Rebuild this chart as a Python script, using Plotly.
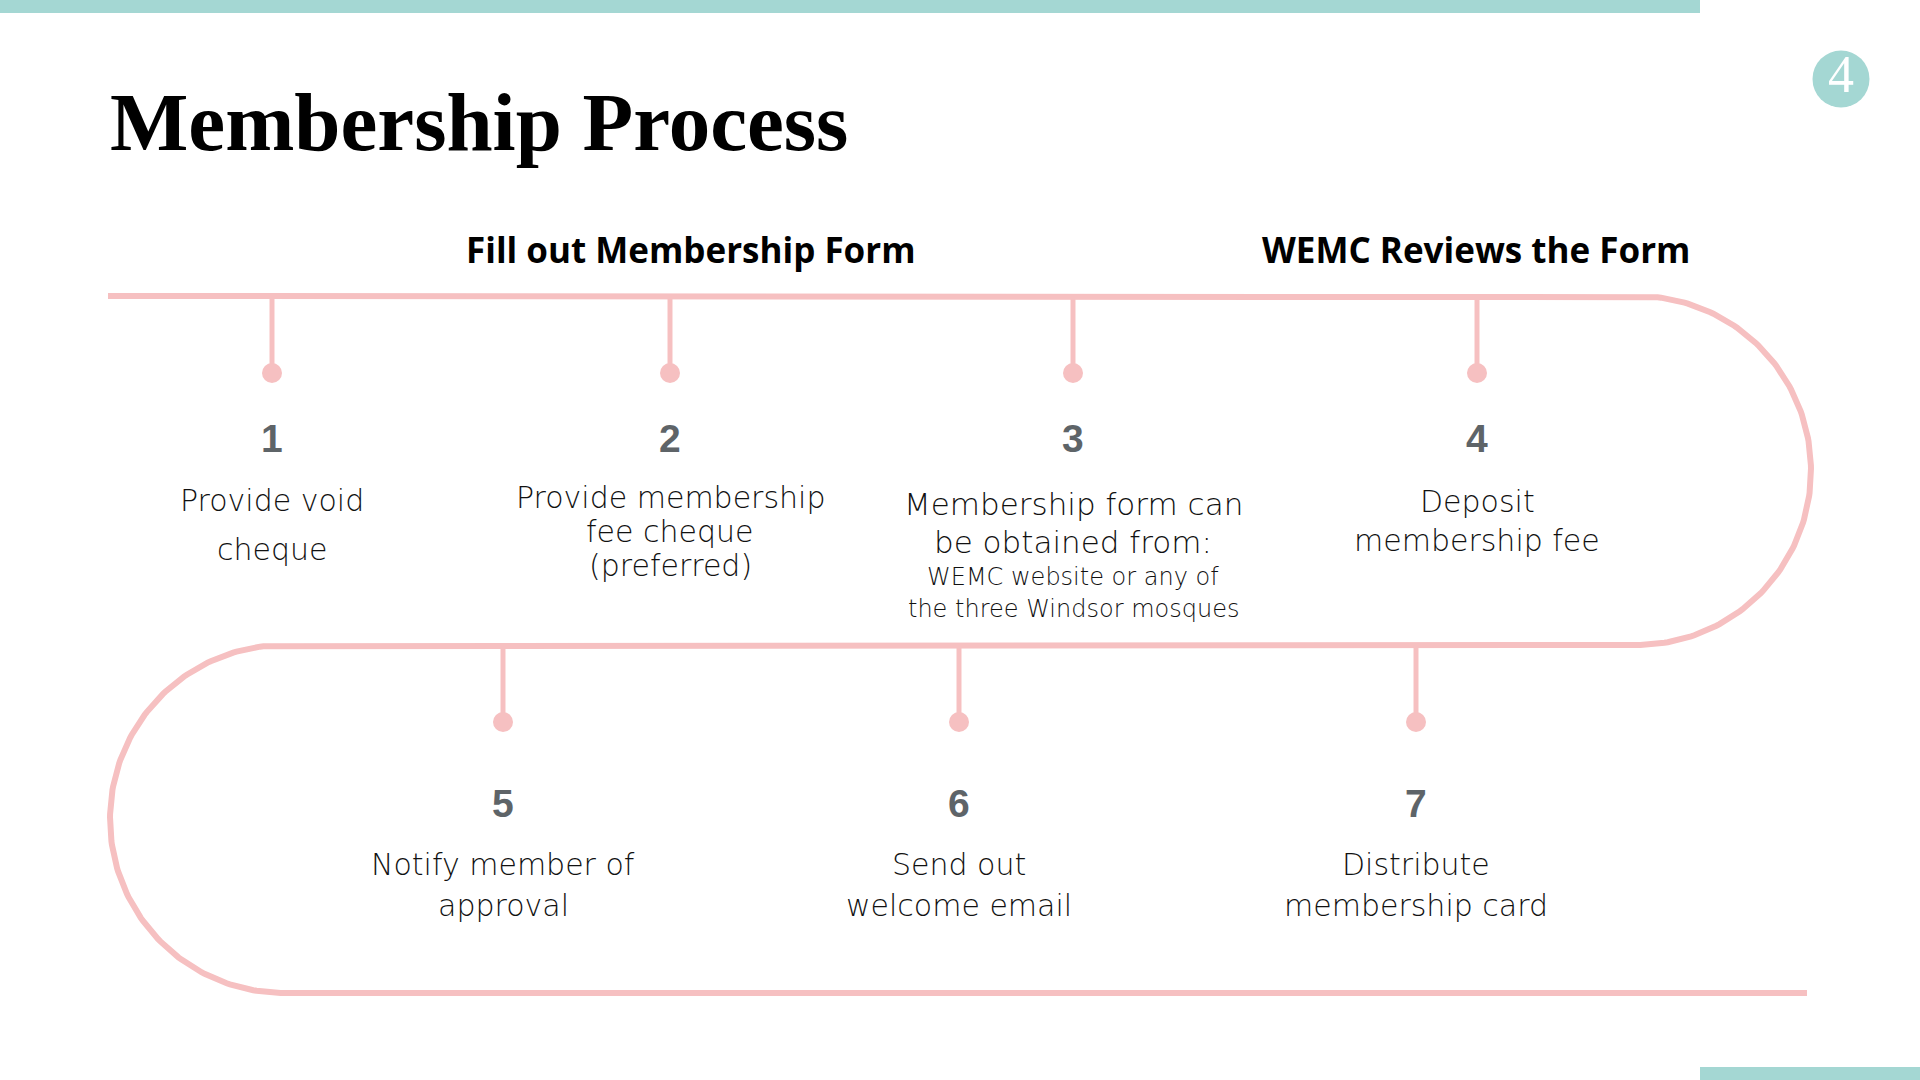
import numpy as np
import plotly.graph_objects as go

# ---------------- content ----------------
title_text = "Membership Process"
page_number = "4"
header_labels = ["Fill out Membership Form", "WEMC Reviews the Form"]
step_numbers = ["1", "2", "3", "4", "5", "6", "7"]
step_lines = [
    ["Provide void", "cheque"],
    ["Provide membership", "fee cheque", "(preferred)"],
    ["Membership form can", "be obtained from:", "WEMC website or any of", "the three Windsor mosques"],
    ["Deposit", "membership fee"],
    ["Notify member of", "approval"],
    ["Send out", "welcome email"],
    ["Distribute", "membership card"],
]

# ---------------- layout geometry ----------------
W, H = 1920, 1080
PINK = "#F6C0C1"
TEAL = "#A4D7D3"
NUMC = "#5E6468"
TXT = "#111111"

y_top, y_mid, y_bot = 296, 645, 993
r_arc = 174
cx_right, cx_left = 1637, 284
x_track_start, x_track_end = 108, 1807

step_x = [272, 670, 1073, 1477, 503, 959, 1416]
step_row = [0, 0, 0, 0, 1, 1, 1]
row_line_y = [y_top, y_mid]
row_dot_y = [373, 722]
row_num_y = [438, 803]
line_y = [
    [500, 549],
    [497, 531, 565],
    [504, 542, 577, 609],
    [501, 540],
    [864, 905],
    [864, 905],
    [864, 905],
]
line_size = [
    [30, 30],
    [30, 30, 30],
    [31, 31, 24, 24],
    [30, 30],
    [30, 30],
    [30, 30],
    [30, 30],
]

fig = go.Figure()

# track path
t1 = np.linspace(-np.pi / 2, np.pi / 2, 160)
t2 = np.linspace(-np.pi / 2, -3 * np.pi / 2, 160)
cy_r = (y_top + y_mid) / 2
cy_l = (y_mid + y_bot) / 2
tx = [x_track_start] + list(cx_right + r_arc * np.cos(t1)) + list(cx_left + r_arc * np.cos(t2)) + [x_track_end]
ty = [y_top] + list(cy_r + (y_mid - y_top) / 2 * np.sin(t1)) + list(cy_l + (y_bot - y_mid) / 2 * np.sin(t2)) + [y_bot]
fig.add_trace(go.Scatter(x=tx, y=ty, mode="lines", line=dict(color=PINK, width=6),
                         hoverinfo="skip", showlegend=False))

# stems + dots
for i, sx in enumerate(step_x):
    r = step_row[i]
    fig.add_trace(go.Scatter(x=[sx, sx], y=[row_line_y[r], row_dot_y[r]], mode="lines",
                             line=dict(color=PINK, width=5), hoverinfo="skip", showlegend=False))
fig.add_trace(go.Scatter(x=step_x, y=[row_dot_y[r] for r in step_row], mode="markers",
                         marker=dict(color=PINK, size=20, line=dict(width=0)),
                         hoverinfo="skip", showlegend=False))

# badge circle
fig.add_trace(go.Scatter(x=[1841], y=[79], mode="markers+text", text=[page_number],
                         textposition="middle center",
                         textfont=dict(family="Liberation Serif", size=52, color="white"),
                         marker=dict(color=TEAL, size=57, line=dict(width=0)),
                         hoverinfo="skip", showlegend=False))

annotations = []
# title
annotations.append(dict(x=108, y=122, xref="x", yref="y", text=title_text, showarrow=False,
                        xanchor="left", yanchor="middle",
                        font=dict(family="Liberation Serif", size=83, color="#000000", weight="bold")))
# headers
for lab, hx in zip(header_labels, [691, 1476]):
    annotations.append(dict(x=hx, y=249, xref="x", yref="y", text=lab, showarrow=False,
                            xanchor="center", yanchor="middle",
                            font=dict(family="Open Sans", size=35, color="#000000", weight="bold")))
# step numbers and descriptions
for i, sx in enumerate(step_x):
    r = step_row[i]
    annotations.append(dict(x=sx, y=row_num_y[r], xref="x", yref="y", text=step_numbers[i],
                            showarrow=False, xanchor="center", yanchor="middle",
                            font=dict(family="Liberation Sans", size=39, color=NUMC, weight="bold")))
    for txt, ly, fs in zip(step_lines[i], line_y[i], line_size[i]):
        annotations.append(dict(x=sx, y=ly, xref="x", yref="y", text=txt, showarrow=False,
                                xanchor="center", yanchor="middle",
                                font=dict(family="DejaVu Sans", size=fs, color=TXT, weight=300)))

shapes = [
    dict(type="rect", xref="x", yref="y", x0=0, x1=1700, y0=0, y1=13, fillcolor=TEAL, line=dict(width=0), layer="below"),
    dict(type="rect", xref="x", yref="y", x0=1700, x1=1920, y0=1067, y1=1080, fillcolor=TEAL, line=dict(width=0), layer="below"),
]

fig.update_layout(
    width=W, height=H,
    margin=dict(l=0, r=0, t=0, b=0),
    paper_bgcolor="white", plot_bgcolor="white",
    xaxis=dict(range=[0, W], visible=False, fixedrange=True),
    yaxis=dict(range=[H, 0], visible=False, fixedrange=True),
    annotations=annotations, shapes=shapes, showlegend=False,
)

fig.write_html("out.html", config={"displayModeBar": False},
               post_script="document.body.style.margin='0';document.body.style.overflow='hidden';")
